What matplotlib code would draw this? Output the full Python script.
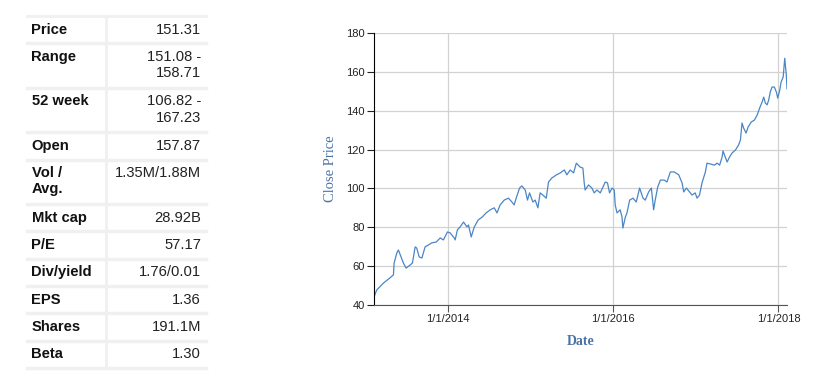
import matplotlib
matplotlib.use("Agg")
import matplotlib.pyplot as plt
import matplotlib.dates as mdates
import pandas as pd

## Key stats shown in the table on the left
stat_labels = ["Price", "Range", "52 week", "Open", "Vol /\nAvg.", "Mkt cap",
               "P/E", "Div/yield", "EPS", "Shares", "Beta"]
stat_values = ["151.31", "151.08 -\n158.71", "106.82 -\n167.23", "157.87",
               "1.35M/1.88M", "28.92B", "57.17", "1.76/0.01", "1.36",
               "191.1M", "1.30"]

## Close price history
dates = ["2013-02-07", "2013-02-19", "2013-03-21", "2013-04-19", "2013-05-04",
         "2013-05-07", "2013-05-19", "2013-05-26", "2013-06-07", "2013-06-17",
         "2013-06-29", "2013-07-17", "2013-07-27", "2013-08-08", "2013-08-15",
         "2013-08-26", "2013-09-07", "2013-09-21", "2013-10-06", "2013-10-21",
         "2013-11-09", "2013-11-27", "2013-12-11", "2013-12-29", "2014-01-10",
         "2014-01-28", "2014-02-01", "2014-02-11", "2014-02-23", "2014-03-10",
         "2014-03-25", "2014-04-01", "2014-04-13", "2014-04-26", "2014-05-14",
         "2014-06-01", "2014-06-18", "2014-07-06", "2014-07-24", "2014-08-05",
         "2014-08-19", "2014-09-06", "2014-09-25", "2014-10-10", "2014-10-20",
         "2014-10-29", "2014-11-13", "2014-11-23", "2014-12-08", "2014-12-18",
         "2014-12-27", "2015-01-11", "2015-01-21", "2015-02-02", "2015-02-12",
         "2015-02-24", "2015-03-11", "2015-03-21", "2015-04-05", "2015-04-24",
         "2015-05-12", "2015-05-30", "2015-06-10", "2015-06-25", "2015-07-10",
         "2015-07-22", "2015-08-08", "2015-08-20", "2015-08-26", "2015-08-30",
         "2015-09-14", "2015-09-29", "2015-10-09", "2015-10-21", "2015-11-05",
         "2015-11-17", "2015-11-27", "2015-12-07", "2015-12-16", "2015-12-27",
         "2016-01-06", "2016-01-10", "2016-01-18", "2016-02-01", "2016-02-09",
         "2016-02-13", "2016-02-24", "2016-03-02", "2016-03-14", "2016-03-29",
         "2016-04-12", "2016-04-27", "2016-05-12", "2016-05-22", "2016-06-06",
         "2016-06-18", "2016-06-28", "2016-07-05", "2016-07-16", "2016-07-28",
         "2016-08-14", "2016-08-26", "2016-09-10", "2016-09-27", "2016-10-17",
         "2016-11-01", "2016-11-08", "2016-11-20", "2016-12-04", "2016-12-15",
         "2016-12-29", "2017-01-06", "2017-01-17", "2017-01-28", "2017-02-12",
         "2017-02-19", "2017-03-06", "2017-03-24", "2017-04-05", "2017-04-16",
         "2017-04-27", "2017-05-01", "2017-05-11", "2017-05-19", "2017-05-30",
         "2017-06-10", "2017-06-25", "2017-07-09", "2017-07-17", "2017-07-24",
         "2017-07-31", "2017-08-11", "2017-08-20", "2017-09-03", "2017-09-17",
         "2017-09-29", "2017-10-10", "2017-10-21", "2017-10-28", "2017-11-04",
         "2017-11-12", "2017-11-19", "2017-11-26", "2017-12-04", "2017-12-14",
         "2017-12-23", "2017-12-29", "2018-01-07", "2018-01-13", "2018-01-22",
         "2018-01-29", "2018-02-01", "2018-02-05", "2018-02-08"]
close = [44.1, 47.7, 51.3, 54.0, 55.5, 61.6, 66.8, 68.3, 64.7, 61.6,
         59.0, 60.6, 61.6, 69.9, 69.3, 64.7, 64.2, 69.9, 70.9, 72.0,
         72.4, 74.5, 73.5, 77.6, 77.1, 74.5, 73.5, 78.7, 80.2, 82.7,
         80.2, 81.2, 75.0, 80.0, 83.8, 85.3, 87.4, 89.0, 90.0, 87.4,
         91.5, 94.0, 95.0, 93.0, 91.5, 95.0, 100.2, 101.3, 99.2, 94.0,
         97.7, 93.0, 94.0, 90.0, 97.7, 96.6, 95.0, 103.3, 105.4, 106.9,
         108.0, 109.5, 107.0, 109.5, 108.0, 113.0, 111.0, 110.5, 102.8, 99.2,
         101.8, 100.2, 97.7, 99.2, 97.7, 100.7, 103.3, 102.8, 97.7, 100.2,
         99.2, 91.5, 87.4, 89.0, 85.3, 79.6, 85.3, 87.4, 94.0, 95.0,
         93.0, 100.2, 95.0, 94.0, 98.2, 100.2, 89.0, 94.0, 100.7, 104.3,
         104.3, 103.3, 108.5, 108.5, 107.0, 102.8, 98.2, 100.2, 98.2, 96.6,
         97.7, 95.0, 96.6, 102.8, 108.5, 113.0, 112.6, 112.0, 113.0, 112.0,
         116.2, 119.3, 116.2, 113.6, 116.2, 118.2, 119.8, 122.4, 124.9, 133.7,
         131.1, 128.5, 131.6, 134.2, 135.2, 137.8, 141.4, 144.5, 147.0, 144.0,
         143.0, 145.5, 149.6, 152.2, 152.2, 149.6, 146.5, 150.6, 154.8, 157.3,
         167.0, 163.5, 158.3, 151.3]

x_ticks = ["2014-01-01", "2016-01-01", "2018-01-01"]
y_ticks = [40, 60, 80, 100, 120, 140, 160, 180]

line_colour = "#4a86c6"
label_colour = "#4a72a6"
grid_colour = "#d2d2d2"
border_colour = "#f0f0f0"

W, H, dpi = 814, 385, 100
fig = plt.figure(figsize=(W / dpi, H / dpi), dpi=dpi)

## Table drawn in pixel coordinates on an invisible full-figure axes
tab = fig.add_axes([0, 0, 1, 1])
tab.set_xlim(0, W)
tab.set_ylim(H, 0)
tab.axis("off")

col_left, col_mid, col_right = 27, 106, 206
single_h, double_h = 27.3, 44.5
y = 16
tab.plot([col_left, col_right], [y, y], color=border_colour, lw=2)
for lab, val in zip(stat_labels, stat_values):
    n_lines = max(lab.count("\n"), val.count("\n")) + 1
    h = single_h if n_lines == 1 else double_h
    tab.text(col_left + 4.5, y + 6.5, lab, ha="left", va="top", fontsize=10.6,
             fontweight="bold", family="Liberation Sans", color="#111111",
             linespacing=1.2)
    tab.text(col_right - 5, y + 6.5, val, ha="right", va="top", fontsize=10.6,
             family="Liberation Sans", color="#222222", linespacing=1.2)
    tab.plot([col_mid, col_mid], [y, y + h], color=border_colour, lw=2)
    y += h
    tab.plot([col_left, col_right], [y, y], color=border_colour, lw=2.5)

## Price chart
ax = fig.add_axes([374 / W, 1 - 305 / H, (787 - 374) / W, (305 - 33) / H])
ax.plot(pd.to_datetime(dates), close, color=line_colour, lw=0.9)

ax.set_xlim(pd.Timestamp(dates[0]), pd.Timestamp(dates[-1]))
ax.set_ylim(40, 180)
ax.set_yticks(y_ticks)
ax.set_xticks(pd.to_datetime(x_ticks))
ax.xaxis.set_major_formatter(
    matplotlib.ticker.FuncFormatter(
        lambda v, p: "{0}/{1}/{2}".format(mdates.num2date(v).month,
                                          mdates.num2date(v).day,
                                          mdates.num2date(v).year)))
ax.grid(True, color=grid_colour, lw=0.9)
ax.set_axisbelow(True)

for s in ["top", "right"]:
    ax.spines[s].set_visible(False)
ax.spines["left"].set_color("#000000")
ax.spines["bottom"].set_color("#555555")
ax.tick_params(axis="both", length=5, width=0.8, labelsize=8, pad=1.5,
               colors="#222222")
ax.tick_params(axis="x", color="#555555")
for t in ax.get_xticklabels() + ax.get_yticklabels():
    t.set_family("Liberation Sans")

ax.set_ylabel("Close Price", family="Liberation Serif", fontsize=10.5,
              color=label_colour, labelpad=7)
ax.set_xlabel("Date", family="Liberation Serif", fontsize=10, fontweight="bold",
              color=label_colour, labelpad=8)

fig.savefig("out.png", dpi=dpi)
